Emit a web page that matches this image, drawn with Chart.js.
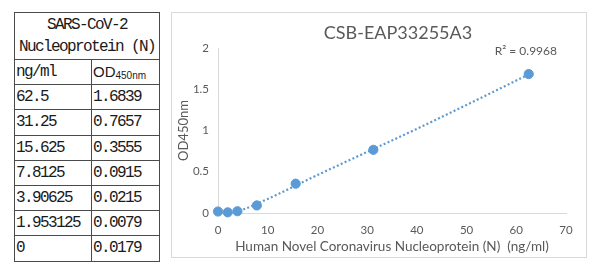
<!DOCTYPE html>
<html>
<head>
<meta charset="utf-8">
<script src="https://cdn.jsdelivr.net/npm/chart.js@4.4.0/dist/chart.umd.min.js"></script>
<style>
  body { margin: 0; background: #fff; width: 600px; height: 272px; position: relative; overflow: hidden; }
  #od-table {
    position: absolute; left: 14px; top: 12px; width: 145px;
    border-collapse: collapse; table-layout: fixed;
    font-family: "Liberation Mono", monospace; font-size: 16px; letter-spacing: -1.6px;
    color: #1a1a1a;
  }
  #od-table td { border: 1px solid #4a4a4a; padding: 0 0 0 1px; height: 24.2px; white-space: nowrap; overflow: hidden; }
  #od-table td.head { text-align: center; height: 46px; line-height: 22px; padding: 0; }
  #od-table .od { font-family: "Liberation Sans", sans-serif; letter-spacing: 0; font-size: 15px; }
  #od-table .od sub { font-size: 10px; vertical-align: -2px; }
  #chart-box {
    position: absolute; left: 171px; top: 12px; width: 416px; height: 246px;
    box-sizing: border-box; border: 1px solid #d9d9d9;
  }
</style>
</head>
<body>
<table id="od-table"></table>
<div id="chart-box"><canvas id="my-chart" width="414" height="244"></canvas></div>
<script>
const tableTitle = ['SARS-CoV-2', 'Nucleoprotein (N)'];
const concentrations = [62.5, 31.25, 15.625, 7.8125, 3.90625, 1.953125, 0];
const concentrationLabels = ['62.5', '31.25', '15.625', '7.8125', '3.90625', '1.953125', '0'];
const odLabels = ['1.6839', '0.7657', '0.3555', '0.0915', '0.0215', '0.0079', '0.0179'];
const odValues = [1.6839, 0.7657, 0.3555, 0.0915, 0.0215, 0.0079, 0.0179];

// trendline
const trendX = [3.5, 10, 20, 30, 40, 50, 62.5];
const trendY = [0, 0.17, 0.46, 0.74, 1.02, 1.31, 1.68];

const chartTitle = 'CSB-EAP33255A3';
const rSquaredText = 'R² = 0.9968';

const blue = '#5B9BD5';
const grey = '#595959';

// left table
const table = document.getElementById('od-table');
let html = '<colgroup><col style="width:77px"><col style="width:68px"></colgroup>';
html += '<tr><td class="head" colspan="2">' + tableTitle.join('<br>') + '</td></tr>';
html += '<tr><td>ng/ml</td><td><span class="od">OD<sub>450nm</sub></span></td></tr>';
concentrationLabels.forEach((c, i) => {
  html += '<tr><td>' + c + '</td><td>' + odLabels[i] + '</td></tr>';
});
table.innerHTML = html;

// title is centred over the plot area, and the R² label sits top right
const chartTexts = {
  id: 'chartTexts',
  afterDraw(chart) {
    const {ctx, chartArea} = chart;
    ctx.save();
    ctx.fillStyle = grey;
    ctx.textBaseline = 'middle';
    ctx.font = '18px Lato';
    ctx.textAlign = 'center';
    ctx.fillText(chartTitle, (chartArea.left + chartArea.right) / 2 + 6, 20);
    ctx.font = '12px Lato';
    ctx.textAlign = 'right';
    ctx.fillText(rSquaredText, chartArea.right - 9, chartArea.top + 3);
    ctx.restore();
  }
};

const ctx = document.getElementById('my-chart').getContext('2d');
const chart = new Chart(ctx, {
  type: 'scatter',
  data: {
    datasets: [
      {
        label: 'OD450nm',
        data: concentrations.map((x, i) => ({x: x, y: odValues[i]})),
        backgroundColor: blue,
        borderColor: blue,
        pointRadius: 4.6,
        pointHoverRadius: 4.6,
        clip: false,
        order: 1
      },
      {
        label: 'Trend',
        type: 'line',
        data: trendX.map((x, i) => ({x: x, y: trendY[i]})),
        borderColor: blue,
        borderWidth: 2.2,
        borderDash: [2, 2.3],
        cubicInterpolationMode: 'monotone',
        pointRadius: 0,
        fill: false,
        order: 2
      }
    ]
  },
  options: {
    responsive: false,
    animation: false,
    layout: { padding: { left: 0, right: 20, top: 35, bottom: 0 } },
    plugins: {
      legend: { display: false },
      tooltip: { enabled: false }
    },
    scales: {
      x: {
        type: 'linear',
        min: 0,
        max: 70,
        ticks: { stepSize: 10, color: grey, padding: 10, font: { family: 'Lato', size: 11.5 } },
        grid: { drawOnChartArea: false, drawTicks: false },
        border: { color: '#d9d9d9', width: 1 },
        title: {
          display: true,
          text: 'Human Novel Coronavirus Nucleoprotein (N)  (ng/ml)',
          color: grey,
          font: { family: 'Lato', size: 13.5 },
          padding: { top: 0, bottom: 2 }
        },
        afterFit: scale => { scale.height = 44; }
      },
      y: {
        min: 0,
        max: 2,
        ticks: {
          stepSize: 0.5,
          color: grey,
          padding: 9,
          font: { family: 'Lato', size: 11.5 },
          callback: value => String(value)
        },
        grid: { drawOnChartArea: false, drawTicks: false },
        border: { color: '#d9d9d9', width: 1 },
        title: {
          display: true,
          text: 'OD450nm',
          color: grey,
          font: { family: 'Lato', size: 13 },
          padding: { top: 4, bottom: 0 }
        },
        afterFit: scale => { scale.width = 46; }
      }
    }
  },
  plugins: [chartTexts]
});
</script>
</body>
</html>
